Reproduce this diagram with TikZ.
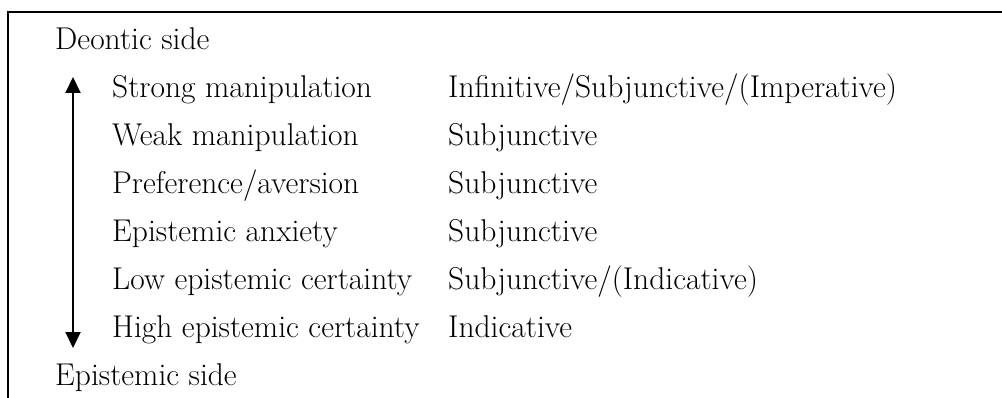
\documentclass[tikz,border=0pt]{standalone}
\usetikzlibrary{arrows.meta}
\tikzset{
  lbl/.style={anchor=base west, inner sep=0pt, font=\fontsize{31.5}{38}\selectfont},
  frame/.style={line width=2pt},
  scale arrow/.style={line width=2pt, {Triangle[length=16pt,width=15pt]}-{Triangle[length=16pt,width=15pt]}}
}
\begin{document}
\begin{tikzpicture}[x=1pt,y=-1pt]
  \useasboundingbox (0,0) rectangle (1002,398);
  % open frame: top and left edges only
  \draw[frame] (1003,12.5) -- (8.3,12.5) -- (8.3,399);
  % end labels of the scale
  \node[lbl] (deon) at (55,50) {Deontic side};
  \node[lbl] (epis) at (55,385) {Epistemic side};
  % predicate classes and their moods
  \node[lbl] (c1) at (112,97.9)  {Strong manipulation};
  \node[lbl] (m1) at (448,97.9)  {Infinitive/Subjunctive/(Imperative)};
  \node[lbl] (c2) at (112,145.7) {Weak manipulation};
  \node[lbl] (m2) at (448,145.7) {Subjunctive};
  \node[lbl] (c3) at (112,193.6) {Preference/aversion};
  \node[lbl] (m3) at (448,193.6) {Subjunctive};
  \node[lbl] (c4) at (112,241.4) {Epistemic anxiety};
  \node[lbl] (m4) at (448,241.4) {Subjunctive};
  \node[lbl] (c5) at (112,289.3) {Low epistemic certainty};
  \node[lbl] (m5) at (448,289.3) {Subjunctive/(Indicative)};
  \node[lbl] (c6) at (112,337.1) {High epistemic certainty};
  \node[lbl] (m6) at (448,337.1) {Indicative};
  % double-headed scale arrow
  \coordinate (up) at (73,77);
  \coordinate (down) at (73,348);
  \draw[scale arrow] (down) -- (up);
\end{tikzpicture}
\end{document}
